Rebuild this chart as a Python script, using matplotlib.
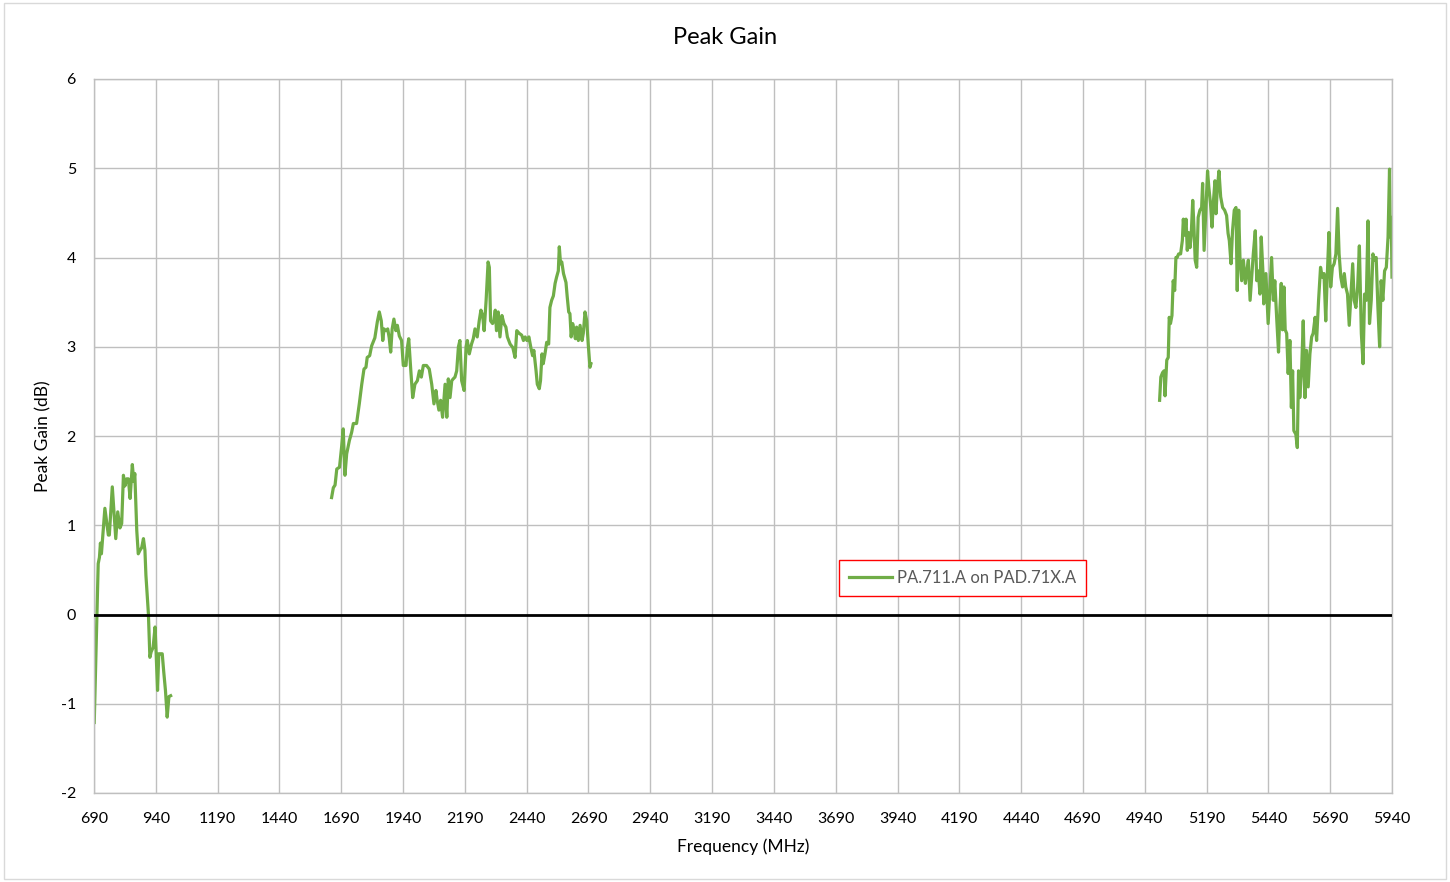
import numpy as np
import matplotlib
matplotlib.use("Agg")
import matplotlib.pyplot as plt
from matplotlib.patches import Rectangle

plt.rcParams["axes.unicode_minus"] = False

# band 1 (low band)
freq_lo = [691, 707, 712, 716, 720, 734, 748, 752, 764, 778, 786, 795, 802, 809, 815, 822, 829,
           836, 845, 851, 855, 863, 869, 876, 883, 890, 896, 900, 910, 916, 921, 929, 937, 941,
           947, 952, 958, 966, 972, 979, 986, 993, 1000]
gain_lo = [-1.21, 0.57, 0.64, 0.80, 0.68, 1.19, 0.89, 0.89, 1.43, 0.85, 1.15, 0.97, 1.02, 1.56,
           1.44, 1.52, 1.52, 1.30, 1.68, 1.49, 1.58, 0.94, 0.68, 0.72, 0.75, 0.85, 0.72, 0.44,
           0.01, -0.48, -0.42, -0.37, -0.14, -0.41, -0.85, -0.44, -0.44, -0.44, -0.64, -0.85,
           -1.15, -0.92, -0.91]

# band 2 (mid band)
freq_mid = [1651, 1658, 1665, 1672, 1683, 1692, 1698, 1705, 1712, 1723, 1732, 1739, 1752, 1763,
            1773, 1782, 1790, 1795, 1805, 1813, 1826, 1836, 1844, 1852, 1858, 1863, 1871, 1878,
            1884, 1890, 1896, 1903, 1911, 1917, 1925, 1934, 1941, 1952, 1957, 1963, 1971, 1979,
            1988, 1998, 2006, 2014, 2022, 2035, 2046, 2056, 2065, 2073, 2078, 2085, 2092, 2100,
            2110, 2117, 2123, 2130, 2137, 2143, 2150, 2157, 2164, 2170, 2177, 2187, 2195, 2200,
            2208, 2217, 2224, 2231, 2240, 2248, 2255, 2262, 2268, 2276, 2284, 2289, 2294, 2302,
            2307, 2313, 2318, 2325, 2332, 2340, 2348, 2356, 2362, 2373, 2384, 2393, 2400, 2410,
            2420, 2427, 2434, 2441, 2449, 2457, 2464, 2469, 2478, 2483, 2491, 2496, 2502, 2507,
            2514, 2521, 2529, 2534, 2541, 2548, 2555, 2561, 2568, 2572, 2577, 2582, 2589, 2599,
            2604, 2610, 2615, 2620, 2626, 2631, 2637, 2642, 2649, 2656, 2664, 2669, 2676, 2683,
            2689, 2696, 2700]
gain_mid = [1.31, 1.42, 1.45, 1.63, 1.65, 1.89, 2.08, 1.56, 1.80, 1.95, 2.04, 2.14, 2.14, 2.36,
            2.58, 2.75, 2.77, 2.88, 2.90, 3.01, 3.10, 3.28, 3.39, 3.29, 3.07, 3.20, 3.18, 3.20,
            3.10, 2.94, 3.20, 3.31, 3.18, 3.24, 3.12, 3.07, 2.79, 2.79, 2.98, 3.09, 2.75, 2.43,
            2.58, 2.62, 2.73, 2.66, 2.79, 2.79, 2.75, 2.58, 2.36, 2.51, 2.40, 2.29, 2.40, 2.21,
            2.58, 2.21, 2.64, 2.43, 2.62, 2.64, 2.66, 2.73, 3.00, 3.07, 2.62, 2.51, 3.00, 3.07,
            2.92, 3.03, 3.09, 3.20, 3.11, 3.29, 3.41, 3.35, 3.18, 3.52, 3.95, 3.89, 3.29, 3.26,
            3.29, 3.41, 3.18, 3.39, 3.11, 3.35, 3.26, 3.22, 3.11, 3.03, 2.99, 2.88, 3.18, 3.15,
            3.13, 3.07, 3.11, 3.07, 3.11, 2.99, 2.90, 2.96, 2.73, 2.58, 2.53, 2.62, 2.92, 2.81,
            2.92, 3.05, 3.03, 3.44, 3.52, 3.57, 3.71, 3.78, 3.85, 4.12, 3.93, 3.95, 3.82, 3.72,
            3.56, 3.39, 3.37, 3.11, 3.26, 3.20, 3.09, 3.22, 3.07, 3.24, 3.07, 3.15, 3.39, 3.29,
            3.03, 2.77, 2.81]

# band 3 (high band)
freq_hi = [5000, 5005, 5012, 5018, 5022, 5029, 5035, 5039, 5044, 5050,
           5055, 5061, 5066, 5071, 5077, 5085, 5092, 5096, 5101, 5107,
           5112, 5117, 5123, 5128, 5134, 5139, 5144, 5150, 5156, 5163,
           5170, 5174, 5180, 5188, 5194, 5199, 5206, 5212, 5218, 5224,
           5228, 5233, 5240, 5247, 5255, 5263, 5271, 5277, 5282, 5289,
           5295, 5302, 5309, 5314, 5320, 5325, 5332, 5339, 5347, 5353,
           5359, 5366, 5374, 5379, 5387, 5393, 5399, 5406, 5411, 5419,
           5421, 5430, 5439, 5446, 5453, 5460, 5466, 5474, 5481, 5487,
           5492, 5497, 5503, 5508, 5514, 5520, 5527, 5533, 5538, 5543,
           5551, 5557, 5562, 5567, 5574, 5581, 5588, 5594, 5601, 5608,
           5615, 5621, 5629, 5635, 5643, 5651, 5658, 5665, 5672, 5678,
           5685, 5692, 5699, 5706, 5713, 5720, 5726, 5733, 5740, 5747,
           5753, 5760, 5767, 5774, 5781, 5787, 5794, 5801, 5808, 5816,
           5823, 5829, 5836, 5843, 5849, 5856, 5863, 5869, 5876, 5883,
           5890, 5896, 5903, 5910, 5917, 5924, 5930, 5933, 5936, 5938,
           5940]
gain_hi = [2.40, 2.66, 2.71, 2.73, 2.45, 2.85, 2.88, 3.33, 3.26, 3.35,
           3.74, 3.63, 4.00, 4.00, 4.04, 4.04, 4.19, 4.43, 4.25, 4.43,
           4.08, 4.28, 4.11, 4.26, 4.64, 4.34, 3.97, 3.89, 4.45, 4.53,
           4.56, 4.83, 4.08, 4.60, 4.97, 4.79, 4.60, 4.34, 4.64, 4.86,
           4.49, 4.75, 4.97, 4.68, 4.56, 4.53, 4.47, 4.27, 4.19, 3.93,
           4.30, 4.53, 4.56, 3.63, 4.53, 4.00, 3.74, 3.97, 3.71, 3.85,
           3.97, 3.52, 3.85, 4.04, 4.30, 3.74, 3.85, 3.59, 4.23, 3.78,
           3.48, 3.82, 3.26, 3.63, 4.00, 3.52, 3.74, 3.30, 2.94, 3.44,
           3.71, 3.19, 3.67, 3.19, 3.15, 2.70, 3.07, 2.32, 2.73, 2.06,
           2.02, 1.87, 2.73, 2.43, 2.70, 3.29, 2.43, 2.96, 2.55, 2.92,
           3.11, 3.15, 3.33, 3.07, 3.52, 3.89, 3.78, 3.82, 3.29, 3.78,
           4.28, 3.67, 3.89, 3.93, 4.04, 4.55, 4.04, 3.78, 3.67, 3.82,
           3.67, 3.59, 3.24, 3.59, 3.93, 3.52, 3.44, 3.67, 4.13, 3.15,
           2.81, 3.59, 3.52, 4.41, 3.26, 3.52, 4.04, 3.97, 4.00, 3.44,
           3.00, 3.74, 3.52, 3.85, 3.89, 4.23, 4.99, 4.23, 4.45, 4.23,
           3.78]

x_ticks = np.arange(690, 5941, 250)
y_ticks = np.arange(-2, 7, 1)

green = "#70AD47"
grid_col = "#BFBFBF"
font = ["Lato", "DejaVu Sans"]

fig = plt.figure(figsize=(14.5, 8.82), dpi=100)
ax = fig.add_axes([94/1450, 1 - 793/882, 1298/1450, 714/882])

ax.plot(freq_lo, gain_lo, color=green, lw=2.3, label="PA.711.A on PAD.71X.A")
ax.plot(freq_mid, gain_mid, color=green, lw=2.3)
ax.plot(freq_hi, gain_hi, color=green, lw=2.3)

ax.axhline(0, color="black", lw=2.0, zorder=3)

ax.set_xlim(690, 5940)
ax.set_ylim(-2, 6)
ax.set_xticks(x_ticks)
ax.set_yticks(y_ticks)
ax.grid(True, color=grid_col, lw=1.0)
ax.set_axisbelow(True)
for s in ax.spines.values():
    s.set_color(grid_col)
    s.set_linewidth(1.0)
ax.tick_params(length=0, labelsize=11.5, colors="black")
ax.tick_params(axis="y", pad=13)
ax.tick_params(axis="x", pad=14)
for lab in ax.get_xticklabels() + ax.get_yticklabels():
    lab.set_family(font)

ax.set_xlabel("Frequency (MHz)", fontsize=12.5, family=font, ha="center", va="center")
ax.set_ylabel("Peak Gain (dB)", fontsize=12.5, family=font, ha="center", va="center")
ax.xaxis.set_label_coords(0.5, (793 - 847) / 714)
ax.yaxis.set_label_coords((43 - 94) / 1298, 0.5)

fig.text(0.5, 1 - 37/882, "Peak Gain", fontsize=17, family=font, ha="center", va="center")

leg = ax.legend(loc="center", bbox_to_anchor=(0.669, 0.301), frameon=True, fancybox=False,
                framealpha=1, edgecolor="red", handlelength=2.6, handletextpad=0.3,
                prop={"family": font, "size": 12}, borderpad=0.6)
leg.get_frame().set_linewidth(1.0)
for t in leg.get_texts():
    t.set_color("#595959")

# outer chart border
fig.patches.append(Rectangle((0.003, 0.003), 0.994, 0.994, transform=fig.transFigure,
                             fill=False, edgecolor="#D9D9D9", lw=1.0))

fig.savefig("out.png", dpi=100)
